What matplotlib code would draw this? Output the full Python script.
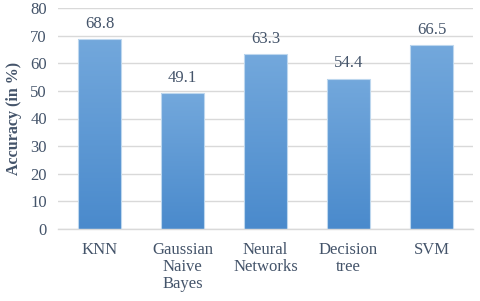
import matplotlib
matplotlib.use('Agg')
import matplotlib.pyplot as plt
import numpy as np
from matplotlib.colors import LinearSegmentedColormap

models = ['KNN', 'Gaussian\nNaive\nBayes', 'Neural\nNetworks', 'Decision\ntree', 'SVM']
accuracy = [68.8, 49.1, 63.3, 54.4, 66.5]

plt.rcParams['font.family'] = 'Liberation Serif'
text_col = '#44546A'
grid_col = '#D9D9D9'

fig = plt.figure(figsize=(4.8, 3.01), dpi=100)
ax = fig.add_axes([58/480, 1 - 229/301, 415/480, 221/301])

x = np.arange(len(models))
bars = ax.bar(x, accuracy, width=0.51, color='none', edgecolor='#BDD7EE',
              linewidth=0.8, zorder=3)

# vertical gradient fill, lighter at the top
cmap = LinearSegmentedColormap.from_list('blu', ['#4A8ACC', '#73A8DC'])
grad = np.linspace(0, 1, 256).reshape(-1, 1)
for b in bars:
    bx, by = b.get_x(), b.get_y()
    w, h = b.get_width(), b.get_height()
    im = ax.imshow(grad, cmap=cmap, origin='lower', aspect='auto',
                   extent=[bx, bx + w, by, by + h], zorder=2)
    im.set_clip_path(b)

for xi, v in zip(x, accuracy):
    ax.annotate(f'{v}', (xi, v), xytext=(0, 11), textcoords='offset points',
                ha='center', va='center', fontsize=12, color=text_col)

ax.set_xlim(-0.5, len(models) - 0.5)
ax.set_ylim(0, 80)
ax.set_yticks(range(0, 81, 10))
ax.set_xticks(x)
ax.set_xticklabels(models, fontsize=12, color=text_col, linespacing=1.1)
ax.tick_params(axis='y', labelsize=12, labelcolor=text_col, length=0, pad=8)
ax.tick_params(axis='x', length=0, pad=9)
ax.yaxis.grid(True, color=grid_col, linewidth=1.0, zorder=0)
ax.set_axisbelow(True)
for s in ['top', 'right', 'left']:
    ax.spines[s].set_visible(False)
ax.spines['bottom'].set_color(grid_col)
ax.spines['bottom'].set_linewidth(1.0)

ax.set_ylabel('Accuracy (in %)', fontsize=11.5, fontweight='bold',
              color=text_col)
ax.yaxis.set_label_coords(-36/415, 0.5)

plt.savefig('out.png', dpi=100)
